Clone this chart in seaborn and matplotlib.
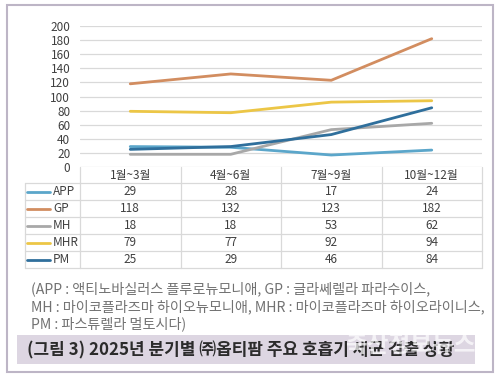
import numpy as np
import pandas as pd
import matplotlib
matplotlib.use("Agg")
import matplotlib.pyplot as plt
import seaborn as sns
from matplotlib.patches import Rectangle
from matplotlib.transforms import blended_transform_factory

# data
quarters = ["1월~3월", "4월~6월", "7월~9월", "10월~12월"]
series_names = ["APP", "GP", "MH", "MHR", "PM"]
app = [29, 28, 17, 24]
gp = [118, 132, 123, 182]
mh = [18, 18, 53, 62]
mhr = [79, 77, 92, 94]
pm = [25, 29, 46, 84]
colors = ["#5ba6ca", "#d28d60", "#a8a8a8", "#ecc646", "#2f6f9c"]
y_ticks = [0, 20, 40, 60, 80, 100, 120, 140, 160, 180, 200]

note_lines = [
    "(APP : 액티노바실러스 플루로뉴모니애, GP : 글라쎄렐라 파라수이스,",
    "MH : 마이코플라즈마 하이오뉴모니애, MHR : 마이코플라즈마 하이오라이니스,",
    "PM : 파스튜렐라 멀토시다)",
]
caption = "(그림 3) 2025년 분기별 ㈜옵티팜 주요 호흡기 세균 검출 상황"
watermark = "축산정보뉴스"

sns.set_theme(style="white")
plt.rcParams["font.family"] = ["Noto Sans CJK KR", "DejaVu Sans"]

values = [app, gp, mh, mhr, pm]
df = pd.DataFrame({
    "quarter": np.tile(np.arange(len(quarters)), len(series_names)),
    "series": np.repeat(series_names, len(quarters)),
    "count": np.concatenate(values),
})

fig = plt.figure(figsize=(5, 3.78), dpi=100)

# background layer in pixel coords (for frame, table, notes)
bg = fig.add_axes([0, 0, 1, 1])
bg.set_xlim(0, 500)
bg.set_ylim(378, 0)
bg.axis("off")

ax = fig.add_axes([0.16, 1 - 167 / 378, 0.804, 141 / 378])
ax.patch.set_alpha(0)

sns.lineplot(data=df, x="quarter", y="count", hue="series", hue_order=series_names,
             palette=colors, lw=2, legend=False, ax=ax)

ax.set_xlim(-0.5, len(quarters) - 0.5)
ax.set_ylim(0, 200)
ax.set_yticks(y_ticks)
ax.set_xticks([])
ax.set_xlabel("")
ax.set_ylabel("")
ax.yaxis.grid(True, color="#d9d9d9", lw=0.9)
ax.set_axisbelow(True)
for s in ax.spines.values():
    s.set_visible(False)
ax.tick_params(axis="y", length=0, pad=7, labelsize=8.5, labelcolor="#404040")

# data table under the chart
tr = blended_transform_factory(ax.transData, bg.transData)
row_edges = [167, 183, 200, 217, 234, 251, 268]
line_c = "#d9d9d9"
col_edges = np.arange(len(quarters) + 1) - 0.5
for xe in col_edges:
    ax.plot([xe, xe], [row_edges[0], row_edges[-1]], color=line_c, lw=0.9,
            transform=tr, clip_on=False)
bg.plot([25, 25], [row_edges[1], row_edges[-1]], color=line_c, lw=0.9)
for ye in row_edges[1:]:
    bg.plot([25, 80], [ye, ye], color=line_c, lw=0.9)
    ax.plot([col_edges[0], col_edges[-1]], [ye, ye], color=line_c, lw=0.9,
            transform=tr, clip_on=False)

for i, q in enumerate(quarters):
    ax.text(i, (row_edges[0] + row_edges[1]) / 2, q, transform=tr, ha="center",
            va="center", fontsize=8.5, color="#404040")

for r, (name, vals, c) in enumerate(zip(series_names, values, colors)):
    yc = (row_edges[r + 1] + row_edges[r + 2]) / 2
    bg.plot([27, 50], [yc, yc], color=c, lw=2)
    bg.text(53, yc, name, ha="left", va="center", fontsize=8.5, color="#404040")
    for i, v in enumerate(vals):
        ax.text(i, yc, str(v), transform=tr, ha="center", va="center",
                fontsize=8.5, color="#404040")

# notes
for k, line in enumerate(note_lines):
    bg.text(31, 289 + k * 17.5, line, ha="left", va="center", fontsize=10.2,
            color="#727272")

# caption band
bg.add_patch(Rectangle((17, 335), 458, 29, facecolor="#ddd6e2", edgecolor="none"))
bg.text(27, 350, caption, ha="left", va="center", fontsize=12.2,
        fontweight="bold", color="#2b2b2b")
bg.text(410, 345, watermark, ha="center", va="center", fontsize=17,
        fontweight="bold", color="white", alpha=0.7)

# outer frame
bg.add_patch(Rectangle((7, 5), 486, 367, fill=False, edgecolor="#bdb5c6", lw=1.5))

fig.savefig("out.png", dpi=100)
plt.close(fig)
